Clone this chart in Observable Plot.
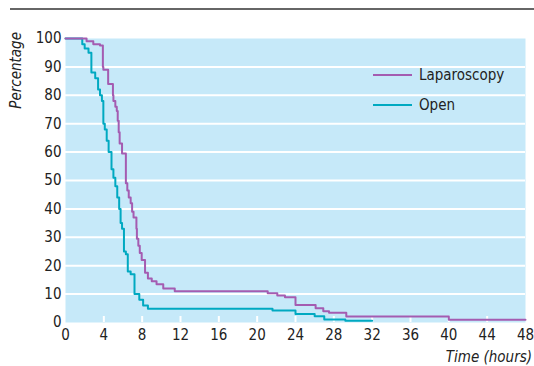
<!DOCTYPE html>
<html>
<head>
<meta charset="utf-8">
<script src="https://cdn.jsdelivr.net/npm/d3@7"></script>
<script src="https://cdn.jsdelivr.net/npm/@observablehq/plot@0.6"></script>
<style>
  html, body { margin: 0; padding: 0; background: #fff; }
  #chart { position: relative; width: 534px; height: 366px; overflow: hidden; }
</style>
</head>
<body>
<div id="chart"></div>
<script>
// ---- data ----
const seriesNames = ["Laparoscopy", "Open"];
const seriesColors = ["#a45cb1", "#00a9c1"];

const lapTime = [0, 2.2, 2.9, 3.6, 3.9, 3.95, 4.45, 4.95, 5.0, 5.2, 5.35, 5.45, 5.55, 5.65, 5.9, 6.3, 6.45, 6.6, 6.8, 6.95, 7.1, 7.4, 7.45, 7.6, 7.75, 7.95, 8.3, 8.6, 9.0, 9.5, 10.2, 11.4, 21.1, 22.1, 22.9, 24.0, 26.1, 26.9, 27.5, 29.3, 40.0, 48.0];
const lapPct  = [100, 99, 98, 97.5, 90, 89, 84, 80, 78, 76, 74.5, 71, 67, 63, 59.5, 49, 46.5, 44, 42, 39, 37, 33, 29.5, 27, 24.5, 22, 17.5, 15.5, 14.5, 13.5, 12, 11, 10.3, 9.5, 8.9, 6.2, 5.0, 4.0, 3.4, 2.1, 1.0, 1.0];

const openTime = [0, 1.75, 2.0, 2.4, 2.7, 3.1, 3.4, 3.6, 3.8, 3.95, 4.1, 4.3, 4.5, 4.8, 5.0, 5.2, 5.4, 5.6, 5.75, 5.9, 6.1, 6.3, 6.5, 6.8, 7.2, 7.7, 8.1, 8.6, 21.6, 24.0, 26.0, 27.0, 29.2, 32.0];
const openPct  = [100, 98, 96.5, 95, 88, 86, 82, 80, 78, 70, 68, 64, 60, 54, 51, 48, 44, 40, 35, 33, 25, 24, 18, 17, 10, 8, 6, 4.8, 4.2, 3.0, 2.2, 1.1, 0.6, 0.6];

const xTicks = [0, 4, 8, 12, 16, 20, 24, 28, 32, 36, 40, 44, 48];
const yTicks = [0, 10, 20, 30, 40, 50, 60, 70, 80, 90, 100];
const gridLevels = [10, 20, 30, 40, 50, 60, 70, 80, 90];
const xLabel = "Time (hours)";
const yLabel = "Percentage";

// build rows
const lapRows = lapTime.map((t, i) => ({t, p: lapPct[i], s: seriesNames[0]}));
const openRows = openTime.map((t, i) => ({t, p: openPct[i], s: seriesNames[1]}));

const W = 534, H = 366;
const mL = 65, mR = 9, mT = 38, mB = 44;
const font = "'Liberation Sans Narrow', 'Arial Narrow', 'DejaVu Sans Condensed', sans-serif";
const fs = 15;

const plot = Plot.plot({
  width: W,
  height: H,
  marginLeft: mL,
  marginRight: mR,
  marginTop: mT,
  marginBottom: mB,
  style: {fontFamily: font, fontSize: fs + "px", color: "#222", background: "transparent", overflow: "visible"},
  x: {domain: [0, 48], label: null},
  y: {domain: [0, 100], label: null},
  marks: [
    Plot.frame({fill: "#c6e9f9", stroke: null}),
    Plot.ruleY(gridLevels, {stroke: "white", strokeWidth: 2}),
    Plot.ruleX(xTicks.slice(1, -1), {stroke: "white", strokeWidth: 2, insetTop: H - mT - mB - 6}),
    Plot.axisX(xTicks, {tickSize: 0, tickPadding: 7, fontSize: fs}),
    Plot.axisY(yTicks, {tickSize: 0, tickPadding: 4, fontSize: fs}),
    Plot.line(openRows, {x: "t", y: "p", curve: "step-after", stroke: seriesColors[1], strokeWidth: 2}),
    Plot.line(lapRows, {x: "t", y: "p", curve: "step-after", stroke: seriesColors[0], strokeWidth: 2})
  ]
});

document.getElementById("chart").appendChild(plot);

// decorations: top rule, axis titles, legend
const svg = d3.select(plot);
svg.append("line")
  .attr("x1", 10).attr("x2", W).attr("y1", 9).attr("y2", 9)
  .attr("stroke", "#333").attr("stroke-width", 1.5);

svg.append("text")
  .attr("x", 532).attr("y", 362)
  .attr("text-anchor", "end")
  .attr("font-family", font).attr("font-size", fs).attr("font-style", "italic")
  .attr("fill", "#222")
  .text(xLabel);

svg.append("text")
  .attr("transform", "translate(21,32) rotate(-90)")
  .attr("text-anchor", "end")
  .attr("font-family", font).attr("font-size", fs).attr("font-style", "italic")
  .attr("fill", "#222")
  .text(yLabel);

const leg = svg.append("g").attr("transform", "translate(373,75)");
seriesNames.forEach((name, i) => {
  const g = leg.append("g").attr("transform", `translate(0,${i * 30})`);
  g.append("line").attr("x1", 0).attr("x2", 39).attr("y1", 0).attr("y2", 0)
    .attr("stroke", seriesColors[i]).attr("stroke-width", 2);
  g.append("text").attr("x", 46).attr("y", 0).attr("dy", "0.35em")
    .attr("text-anchor", "start")
    .attr("font-family", font).attr("font-size", fs).attr("fill", "#222")
    .text(name);
});
</script>
</body>
</html>
